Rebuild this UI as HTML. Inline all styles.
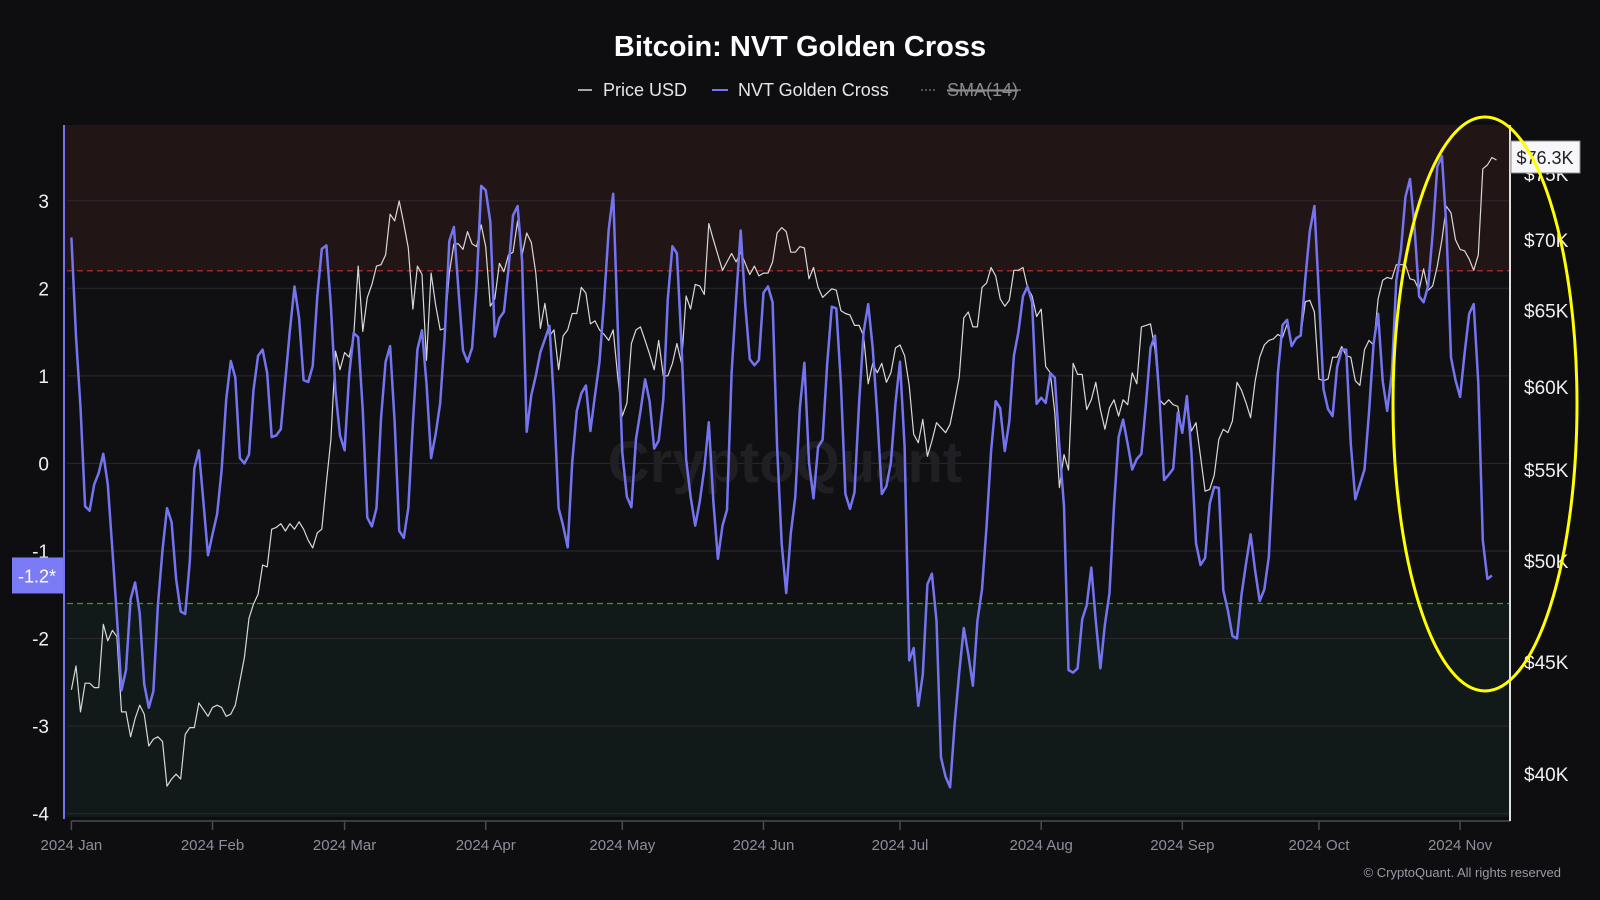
<!DOCTYPE html>
<html><head><meta charset="utf-8"><style>
html,body{margin:0;padding:0;background:#0e0e11;}
svg{display:block;font-family:"Liberation Sans",sans-serif;}
</style></head><body>
<svg id="chart" width="1600" height="900" viewBox="0 0 1600 900" xmlns="http://www.w3.org/2000/svg">
<rect x="0" y="0" width="1600" height="900" fill="#0e0e11"/>
<text x="800" y="56" text-anchor="middle" fill="#ffffff" font-size="29" font-weight="bold">Bitcoin: NVT Golden Cross</text>
<g font-size="18">
  <g>
    <line x1="578" y1="90" x2="592" y2="90" stroke="#d8d8d8" stroke-width="1.5"/>
    <text x="603" y="96" fill="#e6e6e6">Price USD</text>
  </g>
  <g>
    <line x1="712" y1="90" x2="728" y2="90" stroke="#7474f0" stroke-width="2"/>
    <text x="738" y="96" fill="#e6e6e6">NVT Golden Cross</text>
  </g>
  <g>
    <line x1="921" y1="90" x2="937" y2="90" stroke="#777" stroke-width="1.2" stroke-dasharray="2,2"/>
    <text x="947" y="96" fill="#8a8a8a" text-decoration="line-through">SMA(14)</text>
    <line x1="947" y1="90" x2="1021" y2="90" stroke="#8a8a8a" stroke-width="1.3"/>
  </g>
</g>
<g id="plot"></g>
</svg>
<script>
const startDate = "2024-01-01";
const monthLabels = ["2024 Jan","2024 Feb","2024 Mar","2024 Apr","2024 May","2024 Jun","2024 Jul","2024 Aug","2024 Sep","2024 Oct","2024 Nov"];
const monthStartDays = [0,31,60,91,121,152,182,213,244,274,305];
const leftTicks = [3,2,1,0,-1,-2,-3,-4];
const rightTicks = [75,70,65,60,55,50,45,40];
const upperThreshold = 2.2;
const lowerThreshold = -1.6;
const nvtValues = [
2.58,1.45,0.64,-0.49,-0.54,-0.24,-0.11,0.11,-0.24,-0.99,
-1.75,-2.59,-2.36,-1.55,-1.36,-1.71,-2.52,-2.79,-2.60,-1.62,
-0.99,-0.51,-0.67,-1.32,-1.69,-1.72,-1.12,-0.06,0.15,-0.44,
-1.05,-0.81,-0.58,-0.08,0.73,1.17,0.98,0.06,0.00,0.10,
0.84,1.23,1.30,1.03,0.30,0.32,0.39,0.96,1.52,2.02,
1.66,0.95,0.93,1.11,1.91,2.45,2.49,1.79,0.82,0.32,
0.15,1.00,1.49,1.44,0.60,-0.62,-0.72,-0.51,0.51,1.16,
1.34,0.46,-0.77,-0.85,-0.51,0.46,1.30,
1.52,0.91,0.06,0.33,0.69,1.45,2.54,2.70,1.99,1.29,
1.16,1.32,2.04,3.17,3.12,2.76,1.45,1.66,1.73,2.22,
2.83,2.94,2.31,0.36,0.78,1.00,1.27,1.42,1.57,0.69,
-0.51,-0.71,-0.96,0.01,0.60,0.80,0.89,0.37,0.78,1.16,
1.86,2.67,3.08,1.54,0.12,-0.38,-0.50,0.28,0.60,0.96,
0.71,0.17,0.26,0.73,1.88,2.48,2.40,1.36,0.05,-0.38,
-0.71,-0.44,-0.06,0.47,-0.44,-1.09,-0.71,-0.53,1.03,1.88,
2.66,1.82,1.19,1.12,1.18,1.95,2.02,
1.84,0.19,-0.92,-1.48,-0.80,-0.38,0.64,1.15,0.01,-0.40,
0.19,0.27,1.14,1.79,1.77,0.91,-0.35,-0.52,-0.33,0.69,
1.50,1.82,1.32,0.55,-0.35,-0.26,0.01,0.69,1.16,0.19,
-2.25,-2.11,-2.77,-2.41,-1.38,-1.26,-1.80,-3.36,-3.58,-3.70,
-2.97,-2.39,-1.88,-2.18,-2.54,-1.80,-1.44,-0.71,0.14,0.71,
0.63,0.14,0.48,1.23,1.50,1.91,2.02,1.84,0.68,0.75,
0.69,1.03,0.98,0.19,-0.49,-2.36,-2.39,-2.34,-1.78,-1.62,
-1.19,-1.80,-2.34,-1.84,-1.48,-0.49,0.30,
0.50,0.22,-0.07,0.05,0.11,0.67,1.32,1.46,0.71,-0.19,
-0.13,-0.06,0.58,0.35,0.77,0.13,-0.91,-1.16,-1.08,-0.46,
-0.27,-0.28,-1.45,-1.68,-1.97,-2.00,-1.50,-1.14,-0.81,-1.23,
-1.57,-1.44,-1.07,-0.05,1.03,1.58,1.64,1.34,1.43,1.46,
2.11,2.65,2.94,1.93,0.85,0.62,0.54,1.10,1.30,1.30,
0.22,-0.41,-0.24,-0.07,0.58,1.37,1.71,0.94,0.60,1.03,
2.09,2.43,3.04,3.25,2.70,1.91,1.84,2.03,2.63,3.39,
3.51,2.70,1.21,0.95,0.76,1.26,1.71,1.82,
0.92,-0.88,-1.32,-1.28];
const priceValuesK = [
43.7,44.8,42.7,44.0,44.0,43.8,43.8,46.8,46.0,46.5,
46.2,42.7,42.7,41.6,42.4,43.0,42.6,41.2,41.5,41.6,
41.4,39.5,39.8,40.0,39.8,41.7,42.0,42.0,43.1,42.8,
42.5,42.9,43.0,42.9,42.5,42.6,43.0,44.1,45.2,47.1,
47.8,48.3,49.8,49.7,51.7,51.8,52.0,51.6,52.0,51.7,
52.1,51.7,51.1,50.7,51.5,51.7,54.3,56.8,62.3,61.1,
62.2,61.9,63.3,68.1,63.6,65.9,66.8,68.1,68.2,68.9,
71.9,71.4,72.9,71.2,69.4,65.1,68.1,
67.5,61.7,67.6,65.4,63.7,63.8,67.6,69.7,69.7,69.3,
70.6,69.7,69.5,71.1,69.5,65.3,65.8,68.3,67.7,68.9,
69.1,71.4,68.9,70.5,69.8,67.6,63.8,65.5,63.3,63.7,
61.1,63.3,63.7,64.8,64.8,66.6,66.2,64.1,64.3,63.7,
63.4,63.0,63.7,60.6,58.2,59.0,62.8,63.7,63.9,63.0,
62.1,61.1,63.0,60.7,60.7,61.5,62.8,61.5,66.0,65.1,
66.8,66.7,66.1,71.2,70.0,68.9,67.8,68.4,69.0,68.4,
69.1,68.3,67.5,68.1,67.4,67.6,67.6,
68.4,70.5,70.9,70.6,69.1,69.1,69.5,69.4,67.2,68.0,
66.6,65.9,66.2,66.5,66.4,65.0,64.8,64.7,64.0,64.0,
63.3,60.2,61.5,60.9,61.5,60.3,60.9,62.5,62.7,62.0,
60.1,57.1,56.6,58.0,55.8,56.7,57.8,57.5,57.2,57.7,
59.1,60.6,64.5,64.9,63.9,63.9,66.6,66.9,68.0,67.4,
65.8,65.3,65.7,67.8,67.8,68.0,66.6,66.0,64.6,65.1,
61.3,60.9,58.4,54.0,55.9,55.0,61.5,60.8,60.8,58.6,
59.2,60.3,58.6,57.4,58.7,59.2,58.2,
59.2,58.9,60.9,60.2,63.9,64.0,64.1,62.4,59.2,58.9,
59.2,58.9,58.8,57.2,59.0,57.3,57.8,55.8,53.8,53.9,
54.7,56.8,57.4,57.2,57.9,60.3,59.8,59.0,58.1,60.4,
61.9,62.7,63.0,63.1,63.4,63.2,64.1,62.6,63.1,63.3,
65.6,65.7,64.9,60.5,60.4,60.5,61.9,61.9,62.6,62.0,
61.9,60.4,60.1,62.4,63.0,62.7,65.8,67.1,67.3,67.2,
68.2,68.2,68.2,67.2,67.1,66.4,67.9,66.4,66.7,68.1,
70.0,72.5,72.0,70.0,69.3,69.2,68.6,67.8,68.9,
75.4,75.7,76.3,76.1];

const NS = "http://www.w3.org/2000/svg";
const plot = document.getElementById('plot');
const L = 64, R = 1510, T = 125, B = 817;
function xScale(day){ return 71.4 + 4.553*day; }
function yLeft(v){ return 463.4 - 87.55*v; }
function yRight(k){ return 239.8 - 955*Math.log(k/70); }
function mk(tag, attrs){ const e = document.createElementNS(NS, tag); for (const k in attrs) e.setAttribute(k, attrs[k]); plot.appendChild(e); return e; }

let e;
e = mk('rect',{x:L,y:T,width:R-L,height:B-T,fill:'#101013'});


e = mk('rect',{x:L+1,y:T,width:R-L-1,height:yLeft(upperThreshold)-T,fill:'#221516'});


e = mk('rect',{x:L+1,y:yLeft(lowerThreshold),width:R-L-1,height:B-yLeft(lowerThreshold),fill:'#111a18'});



leftTicks.forEach(v=>{
  const y = yLeft(v);
  const g = mk('line',{x1:L+3,x2:R,y1:y,y2:y,stroke:'#2a2a30','stroke-width':1});
  
  
  const t = mk('text',{x:49,y:y+7,'text-anchor':'end',fill:'#f0f0f0','font-size':19});
  t.textContent = String(v);
  
  
});

e = mk('text',{x:785,y:482,'text-anchor':'middle',fill:'#1f1f24','font-size':58,'font-weight':'bold'});
e.textContent = 'CryptoQuant';



e = mk('line',{x1:L+3,x2:R,y1:yLeft(upperThreshold),y2:yLeft(upperThreshold),stroke:'#c0302f','stroke-width':1.2,'stroke-dasharray':'6,4'});


e = mk('line',{x1:L+3,x2:R,y1:yLeft(lowerThreshold),y2:yLeft(lowerThreshold),stroke:'#2f9a2f','stroke-width':1.2,'stroke-dasharray':'6,4'});



rightTicks.forEach(k=>{
  const t = mk('text',{x:1524,y:yRight(k)+7,fill:'#f0f0f0','font-size':19});
  t.textContent = '$'+k+'K';
  
  
});

e = mk('line',{x1:71.4,x2:R,y1:821,y2:821,stroke:'#4a4a55','stroke-width':1.5});


monthStartDays.forEach((d,i)=>{
  const x = xScale(d);
  const tk = mk('line',{x1:x,x2:x,y1:821,y2:830,stroke:'#4a4a55','stroke-width':1.5});
  
  
  const t = mk('text',{x:x,y:850,'text-anchor':'middle',fill:'#8e8e9a','font-size':15});
  t.textContent = monthLabels[i];
  
  
});

let pd = priceValuesK.map((k,i)=>(i?'L':'M')+xScale(i).toFixed(1)+' '+yRight(k).toFixed(1)).join(' ');
e = mk('path',{d:pd,fill:'none',stroke:'#d8d8d8','stroke-width':1.2,'stroke-linejoin':'round'});


let nd = nvtValues.map((v,i)=>(i?'L':'M')+xScale(i).toFixed(1)+' '+yLeft(v).toFixed(1)).join(' ');
e = mk('path',{d:nd,fill:'none',stroke:'#7474f0','stroke-width':2.5,'stroke-linejoin':'round'});



e = mk('line',{x1:L,x2:L,y1:T,y2:819,stroke:'#7474f0','stroke-width':2});


e = mk('line',{x1:R,x2:R,y1:T,y2:821,stroke:'#e0e0e0','stroke-width':2});



const lastN = nvtValues[nvtValues.length-1];
const ly = yLeft(lastN);
e = mk('rect',{x:12,y:ly-18,width:51,height:36,fill:'#7b7bf5'});


e = mk('text',{x:37,y:ly+7,'text-anchor':'middle',fill:'#ffffff','font-size':18});
e.textContent = '-1.2*';



e = mk('rect',{x:1511,y:141,width:69,height:32,fill:'#f7f7fb',stroke:'#888','stroke-width':1});


e = mk('text',{x:1545,y:164,'text-anchor':'middle',fill:'#222','font-size':18});
e.textContent = '$76.3K';



e = mk('ellipse',{cx:1485,cy:404,rx:92,ry:287,fill:'none',stroke:'#ffff00','stroke-width':3});



e = mk('text',{x:1561,y:877,'text-anchor':'end',fill:'#9a9aa5','font-size':13});
e.textContent = '© CryptoQuant. All rights reserved';


</script>
</body></html>
